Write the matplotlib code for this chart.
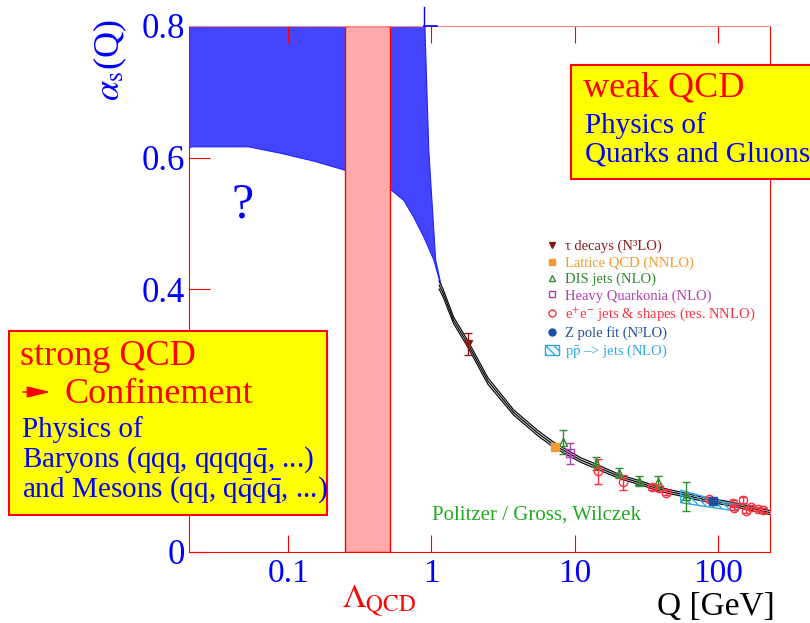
import matplotlib.pyplot as plt
import matplotlib.patches as mpatches
from matplotlib.lines import Line2D
from matplotlib.ticker import NullLocator

plt.rcParams['font.family'] = ['Liberation Serif', 'DejaVu Sans']
plt.rcParams['mathtext.fontset'] = 'stix'

# blue "unknown" band, left of Lambda_QCD (lower edge, top is 0.8)
band_left_q = [0.0203, 0.0209, 0.0523, 0.0889, 0.151, 0.26]
band_left_lo = [0.615, 0.617, 0.617, 0.607, 0.595, 0.580]
# blue band right of Lambda_QCD, outline (lower edge down, right edge up)
band_right_q = [0.49, 0.513, 0.641, 0.754, 0.885, 1.04, 1.19, 1.07, 0.958, 0.90, 0.49]
band_right_a = [0.555, 0.552, 0.535, 0.509, 0.479, 0.444, 0.398, 0.444, 0.611, 0.80, 0.80]
lambda_lo, lambda_hi = 0.249, 0.513

# running coupling curve with its band
q_curve = [1.13, 1.20, 1.43, 1.79, 2.48, 3.76, 5.52, 7.14, 11.0, 14.5, 21.0,
           28.9, 39.9, 57.8, 75.9, 117, 150, 231]
a_curve = [0.406, 0.395, 0.352, 0.317, 0.260, 0.212, 0.181, 0.163, 0.140, 0.129,
           0.114, 0.105, 0.095, 0.087, 0.081, 0.074, 0.069, 0.060]
da_curve = [0.006, 0.006, 0.005, 0.005, 0.005, 0.004, 0.004, 0.004, 0.0035, 0.0035,
            0.003, 0.003, 0.003, 0.003, 0.003, 0.003, 0.003, 0.003]

# measurements
tau_q, tau_a, tau_err = [1.79], [0.316], [0.017]
lat_q, lat_a = [7.26], [0.160]
dis_q = [8.26, 14.0, 20.3, 28.0, 38.0, 59.6]
dis_a = [0.167, 0.135, 0.120, 0.108, 0.106, 0.085]
dis_err = [0.018, 0.010, 0.008, 0.008, 0.009, 0.022]
hq_q, hq_a, hq_err = [9.25], [0.150], [0.016]
ee_q = [14.5, 21.7, 34.5, 38.7, 43.4, 86.5, 127, 129, 149, 157, 169, 190, 206]
ee_a = [0.123, 0.106, 0.099, 0.097, 0.090, 0.081, 0.0745, 0.067, 0.079, 0.062,
        0.068, 0.065, 0.064]
ee_err = [0.019, 0.011, 0.004, 0.004, 0.004, 0.003, 0.004, 0.003, 0.004, 0.003,
          0.003, 0.003, 0.003]
z_q, z_a = [92], [0.078]
pp_q = [55, 137]
pp_lo = [0.075, 0.062]
pp_hi = [0.094, 0.070]

top_mark_q = [0.885, 0.885]
top_mark_a = [0.80, 0.829]
top_bar_q = [0.885, 1.1]
top_bar_a = [0.80, 0.80]

c_tau = '#8b1a1a'
c_lat = '#f59a2e'
c_dis = '#2e8b2e'
c_hq = '#b040b0'
c_ee = '#ff3040'
c_z = '#1f50a0'
c_pp = '#30a8e0'
blue = '#0000ff'

fig = plt.figure(figsize=(8.1, 6.23), dpi=100)
ax = fig.add_axes([189 / 810, 71 / 623, 581 / 810, 526 / 623])
ax.set_xscale('log')
ax.set_xlim(0.0203, 231)
ax.set_ylim(0, 0.8)

ax.fill_between(band_left_q, band_left_lo, 0.8, color='#4444ff', ec='#2222ff', lw=0.8, zorder=1)
ax.fill(band_right_q, band_right_a, color='#4444ff', ec='#2222ff', lw=0.8, zorder=1)
ax.axvspan(lambda_lo, lambda_hi, fc='#ffaaaa', ec='red', lw=1, zorder=2)
ax.plot(top_mark_q, top_mark_a, color=blue, lw=1, clip_on=False, zorder=3)
ax.plot(top_bar_q, top_bar_a, color=blue, lw=1.2, clip_on=False, zorder=3)

lo = [a - d for a, d in zip(a_curve, da_curve)]
hi = [a + d for a, d in zip(a_curve, da_curve)]
ax.fill_between(q_curve, lo, hi, color='#d8d8d8', lw=0, zorder=3)
for y in (lo, a_curve, hi):
    ax.plot(q_curve, y, color='black', lw=0.8, zorder=4)

ax.fill_between(pp_q, pp_lo, pp_hi, fc='none', ec=c_pp, hatch='\\\\\\\\\\', lw=1, zorder=5)
ekw = dict(ls='none', capsize=3, elinewidth=1, capthick=1, zorder=6)
ax.errorbar(tau_q, tau_a, yerr=tau_err, fmt='v', color=c_tau, ms=6, **ekw)
ax.errorbar(dis_q, dis_a, yerr=dis_err, fmt='^', color=c_dis, mfc='none', ms=6, **ekw)
ax.errorbar(hq_q, hq_a, yerr=hq_err, fmt='s', color=c_hq, mfc='none', ms=6, **ekw)
ax.errorbar(ee_q, ee_a, yerr=ee_err, fmt='o', color=c_ee, mfc='none', ms=6, **ekw)
ax.plot(lat_q, lat_a, 's', color=c_lat, ms=6, zorder=7)
ax.plot(z_q, z_a, 's', color=c_z, ms=6, zorder=7)

handles = [
    Line2D([], [], ls='none', marker='v', color=c_tau, ms=5),
    Line2D([], [], ls='none', marker='s', color=c_lat, ms=5),
    Line2D([], [], ls='none', marker='^', color=c_dis, mfc='none', ms=5),
    Line2D([], [], ls='none', marker='s', color=c_hq, mfc='none', ms=5),
    Line2D([], [], ls='none', marker='o', color=c_ee, mfc='none', ms=5),
    Line2D([], [], ls='none', marker='o', color=c_z, ms=5),
    mpatches.Patch(fc='white', ec=c_pp, hatch='\\\\\\\\'),
]
labels = ['τ decays (N³LO)', 'Lattice QCD (NNLO)', 'DIS jets (NLO)',
          'Heavy Quarkonia (NLO)', 'e$^{+}$e$^{-}$ jets & shapes (res. NNLO)',
          'Z pole fit (N³LO)', 'p$\\bar{\\rm p}$ –> jets (NLO)']
ax.legend(handles, labels, loc='upper left', bbox_to_anchor=(0.6, 0.607),
          frameon=False, fontsize=10.5, labelspacing=0.2, handlelength=1.0,
          handletextpad=0.4, borderpad=0,
          labelcolor=[c_tau, c_lat, c_dis, c_hq, c_ee, c_z, c_pp])

ax.text(0.418, 0.061, 'Politzer / Gross, Wilczek', transform=ax.transAxes,
        color='#22aa22', fontsize=15, va='baseline')

for s in ax.spines.values():
    s.set_color('red')
ax.spines['top'].set_color('#ff8888')
ax.set_xticks([0.1, 1, 10, 100], labels=['0.1', '1', '10', '100'])
ax.xaxis.set_minor_locator(NullLocator())
ax.set_yticks([0, 0.2, 0.4, 0.6, 0.8], labels=['0', '0.2', '0.4', '0.6', '0.8'])
ax.tick_params(axis='x', which='major', direction='in', length=12, color='red',
               top=True, labelcolor=blue, labelsize=24, pad=5)
ax.tick_params(axis='y', which='major', direction='in', length=15, color='red',
               labelcolor=blue, labelsize=25, pad=3)


def fx(px):
    return px / 810


def fy(py):
    return 1 - py / 623


fig.text(fx(242), fy(217), '?', color=blue, fontsize=36, ha='center', va='baseline')
fig.text(fx(110), fy(60), '$\\alpha_{\\rm s}$(Q)', rotation=90, color=blue,
         fontsize=26, ha='center', va='center')
fig.text(fx(342), fy(608), '$\\Lambda_{\\rm QCD}$', color='red', fontsize=24,
         ha='left', va='baseline')
fig.text(fx(775), fy(615), 'Q [GeV]', color='black', fontsize=24,
         ha='right', va='baseline')

# weak QCD box
fig.add_artist(mpatches.Rectangle((fx(571), fy(179)), fx(260), 114 / 623,
                                  transform=fig.transFigure, fc='yellow', ec='red',
                                  lw=1.5, zorder=10))
fig.text(fx(583), fy(97), 'weak QCD', color='red', fontsize=26, va='baseline', zorder=11)
fig.text(fx(585), fy(133), 'Physics of', color=blue, fontsize=21, va='baseline', zorder=11)
fig.text(fx(585), fy(161), 'Quarks and Gluons', color=blue, fontsize=21,
         va='baseline', zorder=11)

# strong QCD box
fig.add_artist(mpatches.Rectangle((fx(9), fy(515)), fx(318), 184 / 623,
                                  transform=fig.transFigure, fc='yellow', ec='red',
                                  lw=1.5, zorder=10))
fig.text(fx(20), fy(365), 'strong QCD', color='red', fontsize=26, va='baseline', zorder=11)
fig.add_artist(mpatches.FancyArrowPatch((fx(20), fy(392)), (fx(53), fy(392)),
                                        transform=fig.transFigure,
                                        arrowstyle='-|>,head_length=0.9,head_width=0.22',
                                        mutation_scale=16, color='red', lw=1.0,
                                        zorder=11))
fig.text(fx(65), fy(403), 'Confinement', color='red', fontsize=26,
         va='baseline', zorder=11)
fig.text(fx(22), fy(437), 'Physics of', color=blue, fontsize=21, va='baseline', zorder=11)
fig.text(fx(22), fy(467), 'Baryons (qqq, qqqq$\\bar{\\rm q}$, ...)', color=blue,
         fontsize=21, va='baseline', zorder=11)
fig.text(fx(22), fy(497), 'and Mesons (qq, q$\\bar{\\rm q}$q$\\bar{\\rm q}$, ...)',
         color=blue, fontsize=21, va='baseline', zorder=11)

fig.savefig('out.png', dpi=100)
